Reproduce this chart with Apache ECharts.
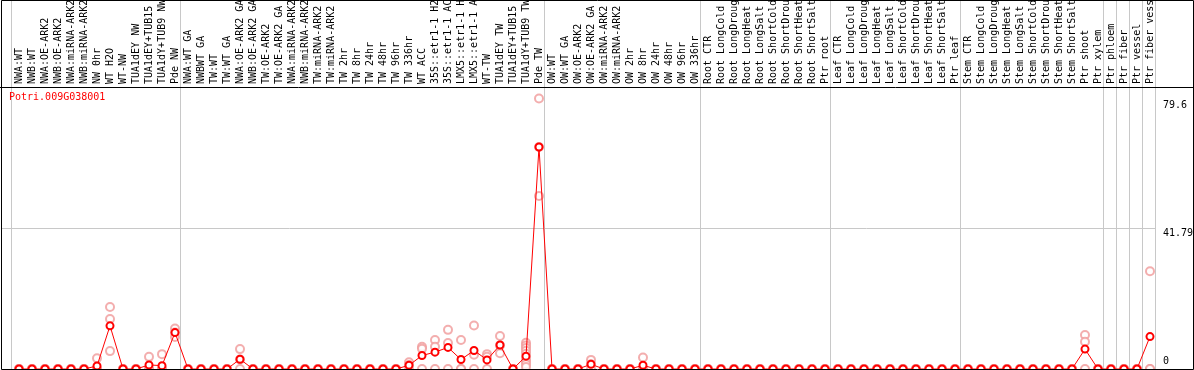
<!DOCTYPE html>
<html><head><meta charset="utf-8">
<script src="https://cdn.jsdelivr.net/npm/echarts@6/dist/echarts.min.js"></script>
<style>html,body{margin:0;padding:0;background:#fff}#c{width:1194px;height:370px}</style>
</head><body><div id="c"></div>
<script>
const geneId = 'Potri.009G038001';
const categories = [
  'NWA:WT','NWB:WT','NWA:OE-ARK2','NWB:OE-ARK2','NWA:miRNA-ARK2','NWB:miRNA-ARK2','NW 0hr','WT H2O','WT-NW','TUA1dEY NW',
  'TUA1dEY+TUB15','TUA1dY+TUB9 NW','Pde NW','NWA:WT GA','NWBWT GA','TW:WT','TW:WT GA','NWA:OE-ARK2 GA','NWB:OE-ARK2 GA','TW:OE-ARK2',
  'TW:OE-ARK2 GA','NWA:miRNA-ARK2','NWB:miRNA-ARK2','TW:miRNA-ARK2','TW:miRNA-ARK2','TW 2hr','TW 8hr','TW 24hr','TW 48hr','TW 96hr',
  'TW 336hr','WT ACC','35S::etr1-1 H2','35S::etr1-1 AC','LMX5::etr1-1 H','LMX5::etr1-1 A','WT-TW','TUA1dEY TW','TUA1dEY+TUB15','TUA1dY+TUB9 TW',
  'Pde TW','OW:WT','OW:WT GA','OW:OE-ARK2','OW:OE-ARK2 GA','OW:miRNA-ARK2','OW:miRNA-ARK2','OW 2hr','OW 8hr','OW 24hr',
  'OW 48hr','OW 96hr','OW 336hr','Root CTR','Root LongCold','Root LongDroug','Root LongHeat','Root LongSalt','Root ShortCold','Root ShortDrou',
  'Root ShortHeat','Root ShortSalt','Ptr root','Leaf CTR','Leaf LongCold','Leaf LongDroug','Leaf LongHeat','Leaf LongSalt','Leaf ShortCold','Leaf ShortDrou',
  'Leaf ShortHeat','Leaf ShortSalt','Ptr leaf','Stem CTR','Stem LongCold','Stem LongDroug','Stem LongHeat','Stem LongSalt','Stem ShortCold','Stem ShortDrou',
  'Stem ShortHeat','Stem ShortSalt','Ptr shoot','Ptr xylem','Ptr phloem','Ptr fiber','Ptr vessel','Ptr fiber vess'
];
const meanValues = [
  0,0,0,0,0,0,0.9,12.8,0,0,
  1.2,1.0,10.8,0,0,0,0,2.9,0,0,
  0,0,0,0,0,0,0,0,0,0,
  1.1,4.0,5.0,6.4,2.8,5.5,2.7,7.1,0,3.8,
  65.8,0,0,0,1.4,0,0,0,1.1,0,
  0,0,0,0,0,0,0,0,0,0,
  0,0,0,0,0,0,0,0,0,0,
  0,0,0,0,0,0,0,0,0,0,
  0,0,5.9,0,0,0,0,9.6
];
const rep1 = [
  0,0,0,0,0,0,3.2,18.4,0,0,
  3.6,4.4,12.0,0,0,0,0,5.9,0,0,
  0,0,0,0,0,0,0,0,0,0,
  2.0,6.6,8.6,11.6,8.6,12.9,4.4,9.8,0,7.8,
  80.2,0,0,0,2.7,0,0,0,3.4,0,
  0,0,0,0,0,0,0,0,0,0,
  0,0,0,0,0,0,0,0,0,0,
  0,0,0,0,0,0,0,0,0,0,
  0,0,10.1,0,0,0,0,29.0
];
const rep2 = [
  0,0,0,0,0,0,0,14.8,0,0,
  0,0,10.8,0,0,0,0,2.8,0,0,
  0,0,0,0,0,0,0,0,0,0,
  1.2,6.0,6.6,7.7,0,4.2,3.6,7.0,0,7.0,
  65.8,0,0,0,1.4,0,0,0,0,0,
  0,0,0,0,0,0,0,0,0,0,
  0,0,0,0,0,0,0,0,0,0,
  0,0,0,0,0,0,0,0,0,0,
  0,0,8.1,0,0,0,0,0
];
const rep3 = [
  0,0,0,0,0,0,0,5.3,0,0,
  0,0,9.5,0,0,0,0,0,0,0,
  0,0,0,0,0,0,0,0,0,0,
  0,0,0,0,0,0,0,4.7,0,6.2,
  51.3,0,0,0,0,0,0,0,0,0,
  0,0,0,0,0,0,0,0,0,0,
  0,0,0,0,0,0,0,0,0,0,
  0,0,0,0,0,0,0,0,0,0,
  0,0,0,0,0,0,0,0
];
const extraRepIndex = 39;
const extraRepValues = [5.4, 4.5, 3.0, 2.2, 1.4, 0.6];
const groupEnds = [-1, 12, 40, 52, 62, 72, 83, 84, 85, 86, 87];
const yLabelValues = [0, 41.79, 79.6];
const yGridValues = [41.79];

const mono = 'DejaVu Sans Mono';
const edgeOffset = 0.385;
const xMin = -1.385;
const xMax = (categories.length - 1) + edgeOffset;
const boundaries = groupEnds.map(k => k + edgeOffset);
const catIdx = categories.map((_, i) => i);

const repData = [];
[rep1, rep2, rep3].forEach(arr => arr.forEach((v, i) => repData.push([i, v])));
extraRepValues.forEach(v => repData.push([extraRepIndex, v]));
const meanData = meanValues.map((v, i) => [i, v]);

const gridLine = {show: true, lineStyle: {color: '#c8c8c8', width: 1}};

const chart = echarts.init(document.getElementById('c'), null, {renderer: 'canvas'});
chart.setOption({
  animation: false,
  backgroundColor: '#fff',
  title: {text: geneId, left: 9, top: 92, padding: 0,
    textStyle: {color: '#ff0000', fontFamily: mono, fontSize: 10, fontWeight: 'normal'}},
  grid: [
    {left: 1, right: 39, top: 0, height: 87, containLabel: false, outerBoundsMode: 'none'},
    {left: 1, right: 39, top: 87, height: 282, containLabel: false, outerBoundsMode: 'none'}
  ],
  xAxis: [
    {gridIndex: 0, type: 'value', min: xMin, max: xMax,
      axisLine: {show: false}, axisTick: {show: false, customValues: boundaries},
      axisLabel: {show: false}, splitLine: gridLine},
    {gridIndex: 1, type: 'value', position: 'top', min: xMin, max: xMax,
      axisLine: {show: false}, axisTick: {show: false, customValues: boundaries},
      axisLabel: {show: true, customValues: catIdx, formatter: v => categories[Math.round(v)],
        rotate: 90, margin: 3, color: '#000', fontFamily: mono, fontSize: 10, hideOverlap: false},
      splitLine: gridLine}
  ],
  yAxis: [
    {gridIndex: 0, type: 'value', min: 0, max: 1, show: false},
    {gridIndex: 1, type: 'value', position: 'right', min: 0, max: 83.6,
      axisLine: {show: false}, axisTick: {show: false, customValues: yGridValues},
      splitLine: gridLine,
      axisLabel: {customValues: yLabelValues, margin: 8, align: 'left', color: '#000',
        fontFamily: mono, fontSize: 10,
        formatter: v => v === 0 ? '{z|0}' : '{t|' + v + '}',
        rich: {
          t: {padding: [10, 0, 0, 0], fontFamily: mono, fontSize: 10, color: '#000'},
          z: {padding: [0, 0, 15, 0], fontFamily: mono, fontSize: 10, color: '#000'}
        }}}
  ],
  series: [
    {type: 'scatter', xAxisIndex: 1, yAxisIndex: 1, data: repData, symbol: 'emptyCircle', symbolSize: 8,
      itemStyle: {color: '#f09a9a', borderWidth: 1.2}, z: 2, silent: true},
    {type: 'line', xAxisIndex: 1, yAxisIndex: 1, data: meanData, symbol: 'emptyCircle', symbolSize: 7,
      showAllSymbol: true, lineStyle: {color: '#ff0000', width: 1},
      itemStyle: {color: '#ff0000', borderWidth: 1.5}, z: 3, silent: true}
  ],
  graphic: [
    {type: 'rect', silent: true, z: 100, shape: {x: 1.5, y: 0.5, width: 1192, height: 369},
      style: {fill: null, stroke: '#000', lineWidth: 1}},
    {type: 'line', silent: true, z: 100, shape: {x1: 0, y1: 87.5, x2: 1194, y2: 87.5},
      style: {stroke: '#000', lineWidth: 1}}
  ]
});
</script>
</body></html>
